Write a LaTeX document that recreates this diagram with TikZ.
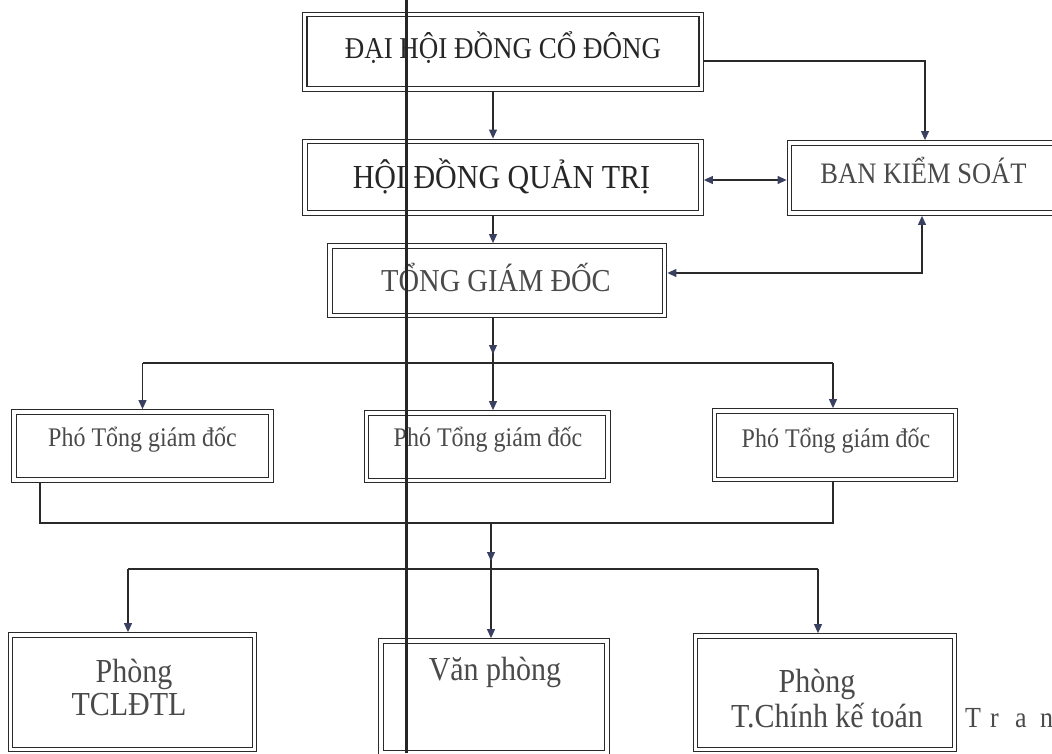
\documentclass[tikz,border=0pt]{standalone}
\usepackage{fontspec}
\setmainfont{Liberation Serif}
\usepackage{graphicx}
\usetikzlibrary{arrows.meta}
\definecolor{linec}{HTML}{2A2A2A}
\definecolor{arrc}{HTML}{3A4060}
\definecolor{textc}{HTML}{262626}
\definecolor{lighttext}{HTML}{4A4A4A}
\newcommand{\vs}[1]{\scalebox{1}[1.12]{#1}}
\newcommand{\fs}[1]{\fontsize{#1}{#1}\selectfont}
\newcommand{\lt}[1]{\makebox[25pt][l]{#1}}
\begin{document}
\begin{tikzpicture}[x=1pt,y=-1pt,
  dbox/.style={draw=linec, line width=1.3pt, double=white, double distance=3.2pt,
    inner sep=0pt, outer sep=2.9pt},
  conn/.style={draw=linec, line width=1.1pt},
  arr/.style={conn, -{Triangle[length=9pt,width=8pt,color=arrc]}},
  arrtwo/.style={conn, {Triangle[length=9pt,width=8pt,color=arrc]}-{Triangle[length=9pt,width=8pt,color=arrc]}},
  txt/.style={anchor=base, inner sep=0pt, text=textc}]
\useasboundingbox (0,0) rectangle (1052,753);
\fill[white] (0,0) rectangle (1052,753);
\clip (0,0) rectangle (1052,753);

% boxes
\node[dbox, minimum width=396.5pt, minimum height=74.5pt] (dh) at (503,51.75) {};
\node[dbox, minimum width=396pt, minimum height=71.5pt] (hd) at (503,177.25) {};
\node[dbox, minimum width=275.5pt, minimum height=70pt] (bks) at (927.25,178) {};
\node[dbox, minimum width=334.5pt, minimum height=69.5pt] (tgd) at (497.25,280.75) {};
\node[dbox, minimum width=257pt, minimum height=68pt] (p1) at (142.5,446) {};
\node[dbox, minimum width=241.5pt, minimum height=67.5pt] (p2) at (487.25,446.75) {};
\node[dbox, minimum width=241pt, minimum height=68.5pt] (p3) at (835,445.25) {};
\node[dbox, minimum width=244pt, minimum height=114.5pt] (b1) at (132.5,692.25) {};
\node[dbox, minimum width=226pt, minimum height=112pt] (b2) at (494,697) {};
\node[dbox, minimum width=259pt, minimum height=113.5pt] (b3) at (825,692.75) {};

% texts
\node[txt, font=\fs{27}] (dht) at (503,58) {\vs{ĐẠI HỘI ĐỒNG CỔ ĐÔNG}};
\node[txt, font=\fs{30}] (hdt) at (501.5,188) {\vs{HỘI ĐỒNG QUẢN TRỊ}};
\node[txt, font=\fs{26.5}, text=lighttext] (bkst) at (923.5,183) {\vs{BAN KIỂM SOÁT}};
\node[txt, font=\fs{28.5}, text=lighttext] (tgdt) at (496,291) {\vs{TỔNG GIÁM ĐỐC}};
\node[txt, font=\fs{24}, text=lighttext] (p1t) at (142.5,446) {\vs{Phó Tổng giám đốc}};
\node[txt, font=\fs{24}, text=lighttext] (p2t) at (488,446) {\vs{Phó Tổng giám đốc}};
\node[txt, font=\fs{24}, text=lighttext] (p3t) at (836,447) {\vs{Phó Tổng giám đốc}};
\node[txt, font=\fs{30}, text=lighttext] (b1a) at (134,682) {\vs{Phòng}};
\node[txt, font=\fs{30}, text=lighttext] (b1b) at (129,715) {\vs{TCLĐTL}};
\node[txt, font=\fs{30}, text=lighttext] (b2t) at (495,680) {\vs{Văn phòng}};
\node[txt, font=\fs{30}, text=lighttext] (b3a) at (817,692) {\vs{Phòng}};
\node[txt, font=\fs{30}, text=lighttext] (b3b) at (827,727) {\vs{T.Chính kế toán}};
\node[txt, anchor=base west, font=\fs{26}, text=lighttext] (tran) at (965,727) {\vs{\lt{T}\lt{r}\lt{a}n}};

% bus coordinates
\coordinate (bus1) at (493,363);
\coordinate (bus1l) at (142.5,363);
\coordinate (bus1r) at (833,363);
\coordinate (bus2l) at (40,523);
\coordinate (bus2m) at (491,523);
\coordinate (bus2r) at (833,523);
\coordinate (bus3l) at (128,569);
\coordinate (bus3m) at (491,569);
\coordinate (bus3r) at (818,569);

% connectors top
\draw[arr] ([yshift=-9.25pt]dh.east) -| ([xshift=-2.25pt]bks.north);
\draw[arr] ([xshift=-10pt]dh.south) -- ([xshift=-10pt]dh.south |- hd.north);
\draw[arrtwo] ([yshift=-2.75pt]hd.east) -- ([yshift=-2.75pt]hd.east -| bks.west);
\draw[arr] ([xshift=-10pt]hd.south) -- ([xshift=-10pt]hd.south |- tgd.north);
\draw[arrtwo] ([yshift=7.75pt]tgd.east) -| ([xshift=-5.25pt]bks.south);

% TGD to bus 1
\draw[conn] (bus1 |- tgd.south) -- (bus1);
\draw[arr] (bus1 |- tgd.south) -- ([yshift=9pt]bus1);
\draw[conn] (bus1l) -- (bus1r);
\draw[arr] (bus1l) -- (bus1l |- p1.north);
\draw[arr] (bus1) -- (bus1 |- p2.north);
\draw[arr] (bus1r) -- (bus1r |- p3.north);

% bus 2
\draw[conn] (bus2l |- p1.south) -- (bus2l) -- (bus2r) -- (bus2r |- p3.south);
\draw[conn] (bus2m) -- (bus3m);
\draw[arr] (bus2m) -- ([yshift=8pt]bus3m);

% bus 3
\draw[conn] (bus3l) -- (bus3r);
\draw[arr] (bus3l) -- (bus3l |- b1.north);
\draw[arr] (bus3m) -- (bus3m |- b2.north);
\draw[arr] (bus3r) -- (bus3r |- b3.north);

% thick vertical scan line
\coordinate (vtop) at (406,0);
\coordinate (vbot) at (406,753);
\draw[line width=3pt, color=black!85] (vtop) -- (vbot);
\end{tikzpicture}
\end{document}
